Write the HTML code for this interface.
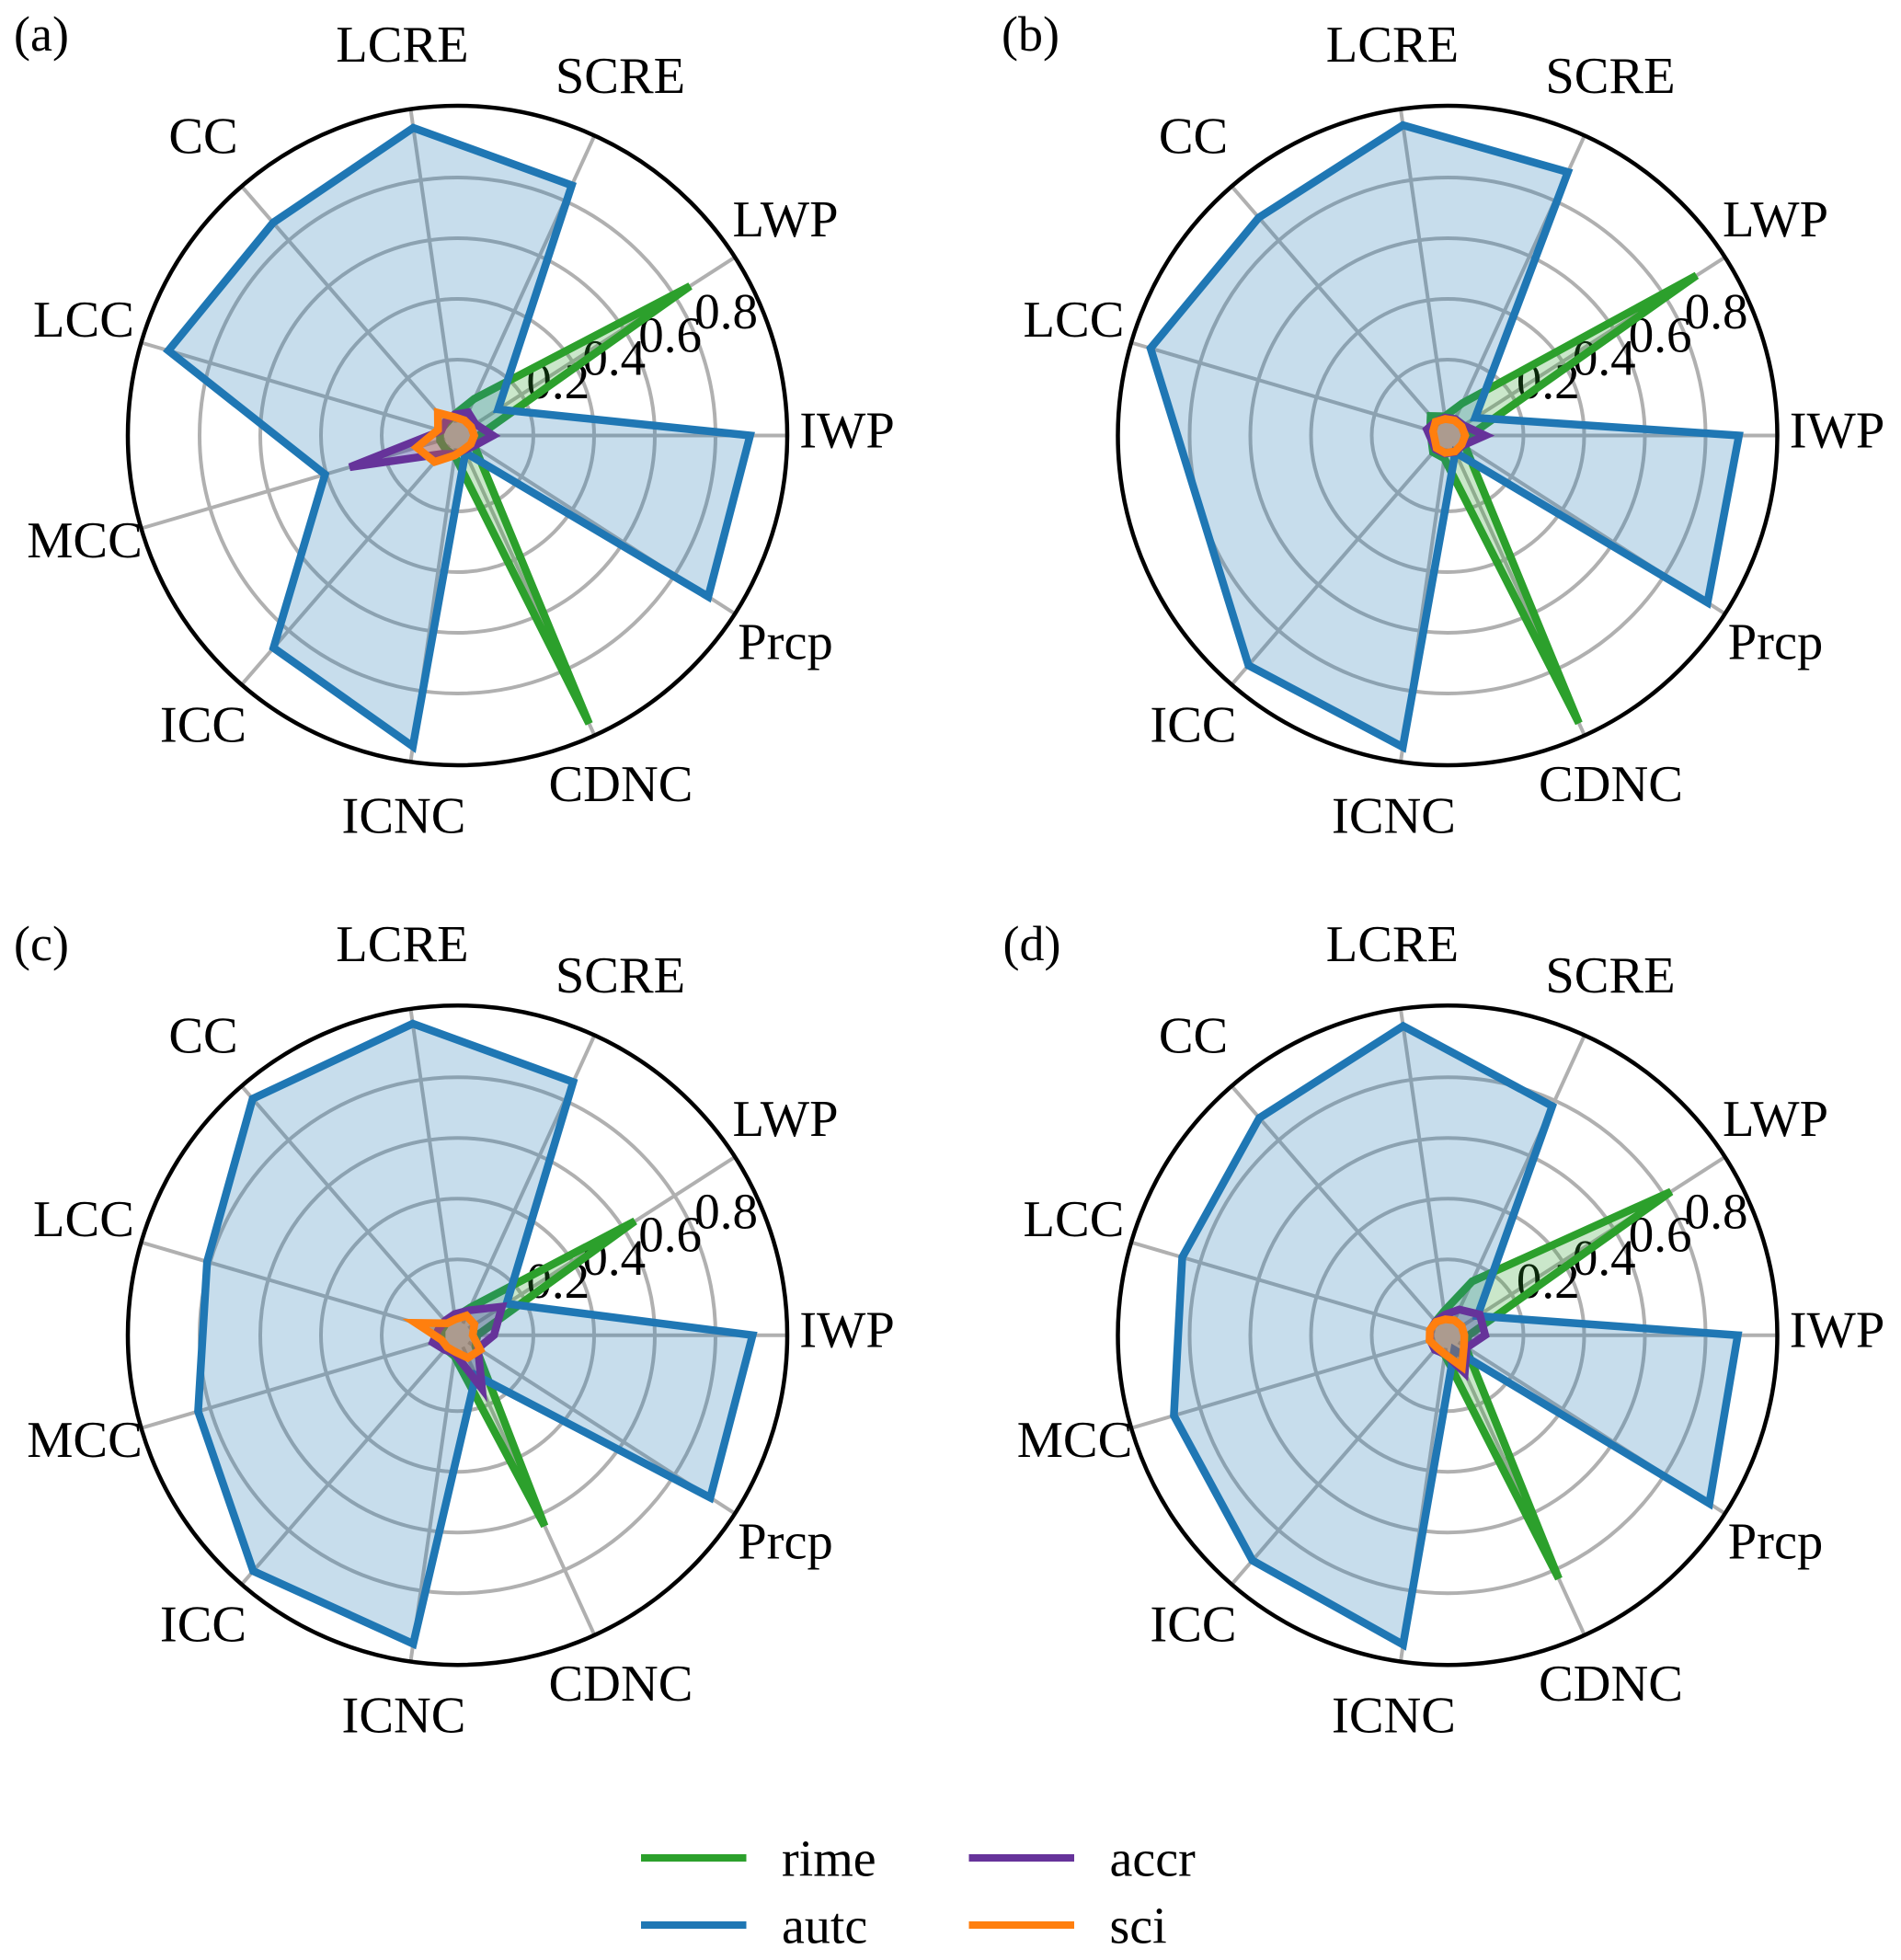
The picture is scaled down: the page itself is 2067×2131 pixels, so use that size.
<!DOCTYPE html>
<html lang="en">
<head>
<meta charset="utf-8">
<title>Radar charts of process sensitivity</title>
<style>
html,body{margin:0;padding:0;background:#fff;}
svg{display:block;}
text{font-family:"Liberation Serif",serif;fill:#000;}
</style>
</head>
<body>
<svg id="chart" xmlns="http://www.w3.org/2000/svg" width="2067" height="2131" viewBox="0 0 2067 2131">
<g id="panels"></g>
<g id="legend"></g>
</svg>
<script>
// Categories, counter-clockwise from the +x axis
const categories = ["IWP","LWP","SCRE","LCRE","CC","LCC","MCC","ICC","ICNC","CDNC","Prcp"];
const tickValues = [0.2,0.4,0.6,0.8];
const tickLabels = ["0.2","0.4","0.6","0.8"];
const seriesNames = ["rime","autc","accr","sci"];
const panelLabels = ["(a)","(b)","(c)","(d)"];

// Panel (a)
const rimeA = [0.020,0.861,0.083,0.020,0.005,0.010,0.010,0.010,0.017,0.994,0.017];
const autcA = [0.914,0.109,0.856,0.974,0.878,0.943,0.405,0.876,0.985,0.012,0.932];
const accrA = [0.067,0.020,0.034,0.020,0.010,0.006,0.320,0.030,0.012,0.003,0.014];
const sciA  = [0.005,0.003,0.005,0.011,0.049,0.017,0.090,0.065,0.016,0.000,0.002];
// Panel (b): MCC has no data
const rimeB = [0.023,0.925,0.067,0.014,0.035,0.010,null,0.023,0.026,0.992,0.020];
const autcB = [0.910,0.058,0.904,0.983,0.900,0.970,null,0.952,0.987,0.011,0.968];
const accrB = [0.074,0.012,0.010,0.010,0.010,0.021,null,0.010,0.010,0.010,0.010];
const sciB  = [0.008,0.005,0.005,0.005,0.010,0.000,null,0.005,0.008,0.008,0.005];
// Panel (c)
const rimeC = [0.015,0.645,0.050,0.010,0.005,0.005,0.005,0.010,0.020,0.641,0.020];
const autcC = [0.922,0.142,0.867,0.987,0.981,0.810,0.841,0.978,0.977,0.095,0.940];
const accrC = [0.070,0.124,0.040,0.020,0.013,0.016,0.035,0.014,0.011,0.144,0.030];
const sciC  = [0.000,0.016,0.021,0.003,0.002,0.094,0.005,0.002,0.005,0.032,0.039];
// Panel (d)
const rimeD = [0.020,0.825,0.145,0.030,0.010,0.010,0.010,0.010,0.015,0.832,0.020];
const autcD = [0.906,0.067,0.780,0.979,0.897,0.861,0.890,0.932,0.980,0.003,0.975];
const accrD = [0.074,0.076,0.043,0.018,0.010,0.010,0.010,0.014,0.012,0.086,0.025];
const sciD  = [0.005,0.005,0.004,0.003,0.008,0.011,0.012,0.004,0.013,0.064,0.014];

const panelData = [
  [rimeA,autcA,accrA,sciA],
  [rimeB,autcB,accrB,sciB],
  [rimeC,autcC,accrC,sciC],
  [rimeD,autcD,accrD,sciD]
];

const NS = "http://www.w3.org/2000/svg";
const colors = ["#2ca02c","#1f77b4","#66339a","#ff7f0e"];
const centers = [[497.5,473.5],[1574,473.5],[497.5,1451.7],[1574,1451.7]];
const panelLabelPos = [[45,55],[1120.5,55],[45,1044],[1122,1044]];
const R_OUTER = 358.5, R_ZERO = 16.5, R_PER_UNIT = 330, R_SPOKE_START = 14;
// Label offsets relative to the panel centre
const labelOffsets = [[423.5,13],[356.5,-216.5],[177,-372.5],[-60,-406.5],[-276.5,-307],[-406.5,-107.5],[-405.5,132.5],[-276.5,333],[-58.5,432],[177.5,397.5],[356.5,243]];
const FONT = 56.5;

function rScale(v){ return R_ZERO + v*R_PER_UNIT; }
function thetaScale(i){ return i*2*Math.PI/categories.length; }
function px(c,i,r){ return c[0]+r*Math.cos(thetaScale(i)); }
function py(c,i,r){ return c[1]-r*Math.sin(thetaScale(i)); }
function mk(tag,attrs,parent){
  const e=document.createElementNS(NS,tag);
  for(const k in attrs) e.setAttribute(k,attrs[k]);
  parent.appendChild(e);
  return e;
}

const panelsRoot=document.getElementById("panels");
panelData.forEach(function(series,p){
  const c=centers[p];
  const g=mk("g",{},panelsRoot);
  
  

  tickValues.forEach(function(t,k){
    const ring=mk("circle",{cx:c[0],cy:c[1],r:rScale(t),fill:"none",stroke:"#b0b0b0","stroke-width":4},g);
    
    
  });

  categories.forEach(function(name,i){
    const hasData=series.some(function(s){return s[i]!==null;});
    if(!hasData) return;
    const spoke=mk("line",{x1:px(c,i,R_SPOKE_START),y1:py(c,i,R_SPOKE_START),x2:px(c,i,R_OUTER),y2:py(c,i,R_OUTER),stroke:"#b0b0b0","stroke-width":4},g);
    
    
    const lab=mk("text",{x:c[0]+labelOffsets[i][0],y:c[1]+labelOffsets[i][1],"text-anchor":"middle","font-size":FONT},g);
    
    
    lab.textContent=name;
  });

  tickValues.forEach(function(t,k){
    const r=rScale(t), a=22.5*Math.PI/180;
    const tl=mk("text",{x:c[0]+r*Math.cos(a)+33,y:c[1]-r*Math.sin(a)-9,"text-anchor":"middle","font-size":55},g);
    
    
    tl.textContent=tickLabels[k];
  });

  series.forEach(function(vals,s){
    const pts=[];
    vals.forEach(function(v,i){
      if(v===null) return;
      const r=rScale(v);
      pts.push(px(c,i,r).toFixed(1)+","+py(c,i,r).toFixed(1));
    });
    const poly=mk("polygon",{points:pts.join(" "),fill:colors[s],"fill-opacity":0.25,stroke:colors[s],"stroke-width":8.5,"stroke-linejoin":"miter","stroke-miterlimit":4},g);
    
    
  });

  const frame=mk("circle",{cx:c[0],cy:c[1],r:R_OUTER,fill:"none",stroke:"#000","stroke-width":4.5},g);
  
  

  const pl=mk("text",{x:panelLabelPos[p][0],y:panelLabelPos[p][1],"text-anchor":"middle","font-size":54},g);
  
  
  pl.textContent=panelLabels[p];
});

const legendRoot=document.getElementById("legend");
const legendX=[697,697,1053.5,1053.5];
const legendY=[2020,2093,2020,2093];
const legendOrder=[0,1,2,3];
legendOrder.forEach(function(s,k){
  const ln=mk("line",{x1:legendX[k],y1:legendY[k],x2:legendX[k]+114.5,y2:legendY[k],stroke:colors[s],"stroke-width":8},legendRoot);
  
  
  const tx=mk("text",{x:legendX[k]+153,y:legendY[k]+19.5,"font-size":56},legendRoot);
  
  
  tx.textContent=seriesNames[s];
});
</script>
</body>
</html>
